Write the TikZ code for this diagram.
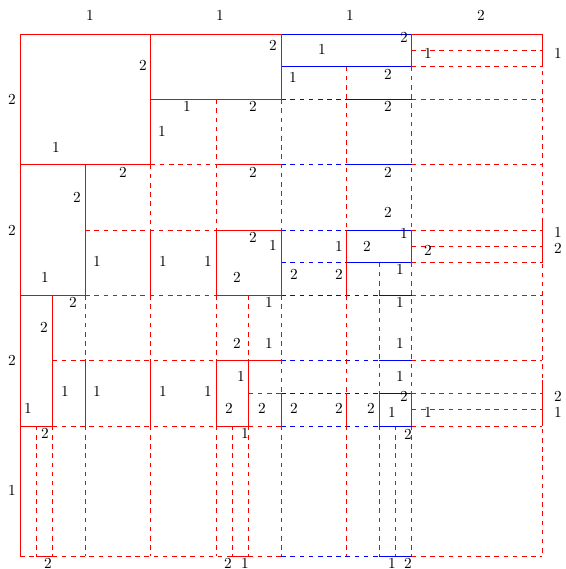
\documentclass[tikz,border=0pt]{standalone}
\begin{document}
\begin{tikzpicture}[x=0.6536pt,y=-0.6536pt,
  rd/.style={draw=red,dashed},
  rs/.style={draw=red},
  bd/.style={draw=blue,dashed},
  bs/.style={draw=blue},
  lab/.style={inner sep=0pt,font=\fontsize{10pt}{12pt}\selectfont}]
\useasboundingbox (0,0) rectangle (566,569);
\begin{scope}[shift={(20,34)},x=85.36pt,y=-85.36pt]
% dashed red horizontals  y / x1 / x2
\foreach \a/\b/\c in {0.125/3/4,0.25/3/4,0.5/3/4,1/1/1.5,1/3/4,1.5/0.5/1.5,1.5/3/4,
  1.625/3/4,1.75/3/4,2/0.5/1.5,2/3/4,2.5/0.25/1.5,2.5/3/4,2.75/1.75/2,2.75/3/4,
  2.875/3/4,3/0.25/1.5,3/1.75/2,3/3/4,4/0/0.125,4/0.25/1.625,4/1.75/2,4/3/4}
  \draw[rd] (\b,\a) -- (\c,\a);
% dashed blue horizontals
\foreach \a/\b/\c in {0.5/2/2.5,1/2/2.5,1.5/2/2.5,1.75/2/2.5,2/2/2.75,2.5/2/2.75,
  2.75/2/2.75,3/2/2.75,4/2/2.75}
  \draw[bd] (\b,\a) -- (\c,\a);
% dashed red verticals  x / y1 / y2
\foreach \a/\b/\c in {0.125/3/4,0.25/3/4,0.5/2/2.5,0.5/3/4,1/1/1.5,1/2/2.5,1/3/4,
  1.5/0.5/1.5,1.5/2/2.5,1.5/3/4,1.625/3/4,1.75/2/2.5,1.75/3/4,2/0.5/1.5,2/2/2.75,2/3/4,
  2.5/0.25/1.5,2.5/2/2.75,2.5/3/4,2.75/1.75/2.75,2.75/3/4,2.875/3/4,
  3/0.25/1.5,3/1.75/2.75,3/3/4,4/0/4}
  \draw[rd] (\a,\b) -- (\a,\c);
% solid red horizontals
\foreach \a/\b/\c in {0/0/2,0/3/4,0.5/1/2,1/0/1,1/1.5/2,1.5/1.5/2,2/0/0.5,2/1.5/2,
  2.5/1.5/2,3/0/0.25,3/1.5/1.75,4/0.125/0.25,4/1.625/1.75}
  \draw[rs] (\b,\a) -- (\c,\a);
% solid blue horizontals
\foreach \a/\b/\c in {0/2/3,0.25/2/3,0.5/2.5/3,1/2.5/3,1.5/2.5/3,1.75/2.5/3,
  2/2.75/3,2.5/2.75/3,2.75/2.75/3,3/2.75/3,4/2.75/3}
  \draw[bs] (\b,\a) -- (\c,\a);
% solid red verticals
\foreach \a/\b/\c in {0/0/4,0.25/2/3,0.5/1/2,0.5/2.5/3,1/0/1,1/1.5/2,1/2.5/3,
  1.5/1.5/2,1.5/2.5/3,1.75/2.5/3,2/0/0.5,2/1.5/2,2/2.75/3,2.5/1.5/2,2.5/2.75/3,
  2.75/2.75/3,3/0/0.25,3/1.5/1.75,3/2.75/3,4/0.03/0.25,4/1.44/1.75,4/2.65/3}
  \draw[rs] (\a,\b) -- (\a,\c);
\end{scope}
% labels
\foreach \x/\y/\t [count=\i] in {
 90/15/1,220/15/1,350/15/1,481/15/2,
 12/99/2,12/230/2,12/360/2,12/490/1,
 558/53/1,558/232/1,558/248/2,558/396/2,558/412/1,
 48/563/2,228/563/2,245/563/1,392/563/1,408/563/2,
 143/65/2,56/147/1,273/45/2,187/106/1,253/106/2,162/131/1,
 404/37/2,322/49/1,428/53/1,293/77/1,388/74/2,388/106/2,
 123/172/2,253/172/2,388/172/2,77/197/2,388/212/2,253/237/2,
 404/233/1,273/245/1,339/246/1,367/246/2,428/250/2,
 97/261/1,163/261/1,208/261/1,400/269/1,294/274/2,339/274/2,
 237/277/2,45/277/1,73/302/2,269/302/1,400/302/1,
 44/327/2,237/343/2,269/343/1,400/343/1,241/376/1,400/376/1,
 65/391/1,97/391/1,163/391/1,208/391/1,404/396/2,
 28/408/1,229/408/2,262/408/2,294/408/2,339/408/2,371/408/2,
 392/412/1,428/412/1,45/433/2,245/433/1,408/434/2}
 \node[lab] (lab\i) at (\x,\y) {\t};
\end{tikzpicture}
\end{document}
